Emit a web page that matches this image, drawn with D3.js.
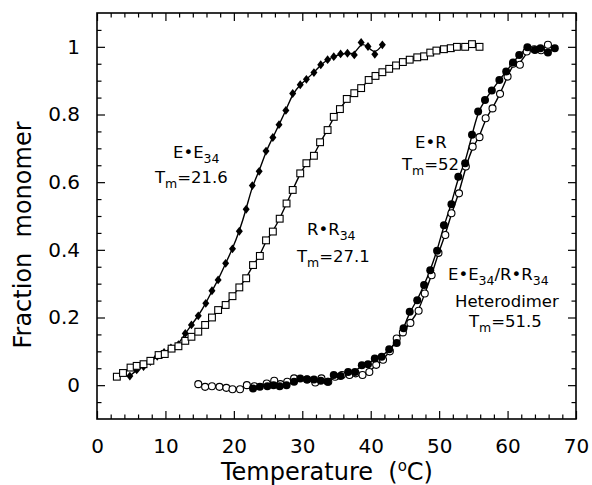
<!DOCTYPE html>
<html><head><meta charset="utf-8">
<script src="https://cdn.jsdelivr.net/npm/d3@7"></script>
<style>
html,body{margin:0;padding:0;background:#fff;}
text{font-family:"DejaVu Sans",sans-serif;fill:#000;}
</style></head>
<body><svg id="c" width="592" height="485"></svg>
<script>
// E•E34 (filled diamonds)
const eeT = [4.8,5.8,6.8,7.8,8.8,9.8,10.8,11.9,12.9,13.8,14.8,15.9,16.8,17.7,18.8,19.8,20.8,21.8,22.7,23.7,24.7,25.7,26.6,27.6,28.6,29.7,30.6,31.7,32.7,33.7,34.6,35.6,36.6,37.6,38.6,39.6,40.6,41.7];
const eeF = [0.027,0.045,0.055,0.07,0.085,0.097,0.11,0.12,0.153,0.178,0.205,0.242,0.279,0.311,0.36,0.403,0.455,0.52,0.59,0.632,0.692,0.732,0.77,0.812,0.862,0.888,0.904,0.924,0.947,0.962,0.971,0.979,0.981,0.976,1.013,1.001,0.978,1.006];
// R•R34 (open squares)
const rrT = [2.9,3.8,4.9,5.8,6.8,7.8,9.0,9.9,10.9,11.9,12.9,13.8,14.8,15.8,16.8,17.7,18.8,19.8,20.8,21.8,22.8,23.8,24.7,25.7,26.7,27.7,28.6,29.7,30.6,31.7,32.6,33.7,34.6,35.5,36.5,37.6,38.6,39.7,40.7,41.7,42.7,43.7,44.7,45.7,46.8,47.8,48.7,49.6,50.7,51.7,52.6,53.8,54.8,55.9];
const rrF = [0.025,0.036,0.052,0.057,0.062,0.072,0.089,0.092,0.108,0.115,0.131,0.143,0.158,0.178,0.2,0.222,0.237,0.263,0.289,0.316,0.355,0.382,0.428,0.454,0.492,0.537,0.577,0.626,0.656,0.678,0.718,0.754,0.793,0.816,0.846,0.863,0.878,0.902,0.914,0.925,0.935,0.945,0.955,0.962,0.969,0.972,0.983,0.989,0.993,0.996,1.0,1.0,1.008,1.0];
// E•R (open circles)
const erT = [14.8,15.8,16.8,17.9,18.9,19.8,20.9,21.9,23.0,24.8,25.9,26.8,27.8,28.8,30.7,31.9,32.8,33.8,34.8,35.8,36.9,37.8,38.8,39.8,40.8,41.8,42.8,43.8,44.7,45.8,47.0,47.9,48.9,49.9,50.9,51.8,52.9,53.9,54.9,55.9,56.8,57.8,58.9,60.0,60.8,61.8,62.8,63.9,64.9,65.9];
const erF = [0.003,-0.005,-0.003,-0.005,-0.008,-0.012,-0.012,0.0,-0.003,0.005,0.013,0.003,0.01,0.02,0.017,0.008,0.02,0.01,0.025,0.03,0.03,0.035,0.03,0.039,0.06,0.075,0.1,0.138,0.156,0.184,0.22,0.271,0.325,0.391,0.444,0.508,0.567,0.646,0.705,0.733,0.789,0.818,0.861,0.912,0.95,0.947,0.986,0.993,0.99,1.006];
// E•E34/R•R34 heterodimer (filled circles)
const hdT = [22.8,23.8,24.9,25.8,26.7,27.7,28.8,29.7,30.7,31.7,32.7,33.7,34.6,35.6,36.7,37.7,38.7,39.6,40.6,41.6,42.7,43.8,44.8,45.7,46.8,47.8,48.7,49.7,50.7,51.8,52.8,53.8,54.8,55.7,56.7,57.7,58.8,59.8,60.8,61.7,62.9,64.0,64.8,65.9,66.9];
const hdF = [-0.01,-0.005,-0.003,0.0,-0.003,0.0,0.01,0.02,0.017,0.017,0.013,0.01,0.03,0.027,0.039,0.039,0.059,0.062,0.079,0.084,0.106,0.125,0.168,0.217,0.251,0.296,0.34,0.397,0.473,0.535,0.616,0.656,0.74,0.809,0.843,0.871,0.902,0.927,0.954,0.976,0.999,0.991,0.996,0.983,0.996];

const xTicks = [0,10,20,30,40,50,60,70];
const yTicks = [0,0.2,0.4,0.6,0.8,1];

const svg = d3.select("#c");
const x = d3.scaleLinear().domain([0,70]).range([97,576]);
const y = d3.scaleLinear().domain([-0.1,1.1]).range([419,13]);
const X0 = 97, X1 = 576, Y0 = 419, Y1 = 13;

const xMinor = d3.range(0,71,2).filter(v=>v%10!==0);
const yMinor = d3.range(-1,12).map(i=>i*0.1).concat(d3.range(-1,11).map(i=>i*0.1+0.05)).map(v=>+v.toFixed(2)).filter(v=>v>-0.1 && v<1.1 && yTicks.indexOf(v)<0);

function drawAxes(){
  const fmtY = d => d===0?"0":d===1?"1":d.toFixed(1);
  svg.append("g").attr("transform",`translate(0,${Y0})`)
    .call(d3.axisBottom(x).tickValues(xTicks).tickSize(-8).tickPadding(20).tickFormat(d3.format("d")))
    .call(g=>{g.select(".domain").remove();g.selectAll("text").attr("font-size",20).attr("font-family","DejaVu Sans");});
  svg.append("g").attr("transform",`translate(0,${Y0})`)
    .call(d3.axisBottom(x).tickValues(xMinor).tickSize(-4.5).tickFormat(""))
    .call(g=>g.select(".domain").remove());
  svg.append("g").attr("transform",`translate(0,${Y1})`)
    .call(d3.axisTop(x).tickValues(xTicks).tickSize(-8).tickFormat(""))
    .call(g=>g.select(".domain").remove());
  svg.append("g").attr("transform",`translate(0,${Y1})`)
    .call(d3.axisTop(x).tickValues(xMinor).tickSize(-4.5).tickFormat(""))
    .call(g=>g.select(".domain").remove());
  svg.append("g").attr("transform",`translate(${X0},0)`)
    .call(d3.axisLeft(y).tickValues(yTicks).tickSize(-8).tickPadding(17).tickFormat(fmtY))
    .call(g=>{g.select(".domain").remove();g.selectAll("text").attr("font-size",20).attr("font-family","DejaVu Sans");});
  svg.append("g").attr("transform",`translate(${X0},0)`)
    .call(d3.axisLeft(y).tickValues(yMinor).tickSize(-4.5).tickFormat(""))
    .call(g=>g.select(".domain").remove());
  svg.append("g").attr("transform",`translate(${X1},0)`)
    .call(d3.axisRight(y).tickValues(yTicks).tickSize(-8).tickFormat(""))
    .call(g=>g.select(".domain").remove());
  svg.append("g").attr("transform",`translate(${X1},0)`)
    .call(d3.axisRight(y).tickValues(yMinor).tickSize(-4.5).tickFormat(""))
    .call(g=>g.select(".domain").remove());
  svg.selectAll(".tick line").attr("stroke","#000").attr("stroke-width",1.2);
  svg.append("rect").attr("x",X0).attr("y",Y1).attr("width",X1-X0).attr("height",Y0-Y1)
    .attr("fill","none").attr("stroke","#000").attr("stroke-width",1.6);
}
drawAxes();

const line = d3.line().x(d=>x(d[0])).y(d=>y(d[1])).curve(d3.curveBasis);
const series = [
  {T:eeT,F:eeF,type:"diamond"},
  {T:rrT,F:rrF,type:"square"},
  {T:erT,F:erF,type:"ocircle"},
  {T:hdT,F:hdF,type:"fcircle"}
];
series.forEach(s=>{
  const pts = s.T.map((t,i)=>[t,s.F[i]]);
  svg.append("path").attr("d",line(pts)).attr("fill","none").attr("stroke","#000").attr("stroke-width",1.4);
});
series.forEach(s=>{
  const pts = s.T.map((t,i)=>[t,s.F[i]]);
  const g = svg.append("g");
  if(s.type==="diamond"){
    g.selectAll("path").data(pts).join("path")
      .attr("d","M0,-4.4L3.5,0L0,4.4L-3.5,0Z")
      .attr("transform",d=>`translate(${x(d[0])},${y(d[1])})`).attr("fill","#000");
  } else if(s.type==="square"){
    g.selectAll("rect").data(pts).join("rect")
      .attr("x",d=>x(d[0])-3.4).attr("y",d=>y(d[1])-3.4).attr("width",6.8).attr("height",6.8)
      .attr("fill","#fff").attr("stroke","#000").attr("stroke-width",1.1);
  } else if(s.type==="ocircle"){
    g.selectAll("circle").data(pts).join("circle")
      .attr("cx",d=>x(d[0])).attr("cy",d=>y(d[1])).attr("r",3.5)
      .attr("fill","#fff").attr("stroke","#000").attr("stroke-width",1.1);
  } else {
    g.selectAll("circle").data(pts).join("circle")
      .attr("cx",d=>x(d[0])).attr("cy",d=>y(d[1])).attr("r",4)
      .attr("fill","#000");
  }
});

function label(xp, yp, parts){
  const t = svg.append("text").attr("x",xp).attr("y",yp).attr("font-size",16.5);
  let shift = 0;
  parts.forEach(p=>{
    const want = p.sub?5:0;
    const ts = t.append("tspan").text(p.t).attr("dy",want-shift);
    if(p.sub) ts.attr("font-size",12.5);
    shift = want;
  });
}
label(173,158,[{t:"E\u2022E"},{t:"34",sub:1}]);
label(155,183,[{t:"T"},{t:"m",sub:1},{t:"=21.6"}]);
label(307,235,[{t:"R\u2022R"},{t:"34",sub:1}]);
label(297,262,[{t:"T"},{t:"m",sub:1},{t:"=27.1"}]);
label(415,148,[{t:"E\u2022R"}]);
label(402,170,[{t:"T"},{t:"m",sub:1},{t:"=52"}]);
label(448,280,[{t:"E\u2022E"},{t:"34",sub:1},{t:"/R\u2022R"},{t:"34",sub:1}]);
label(455,307,[{t:"Heterodimer"}]);
label(469,327,[{t:"T"},{t:"m",sub:1},{t:"=51.5"}]);

svg.append("text").attr("transform","translate(31,235) rotate(-90)").attr("text-anchor","middle")
  .attr("font-size",24).style("white-space","pre").text("Fraction  monomer");
const xt = svg.append("text").attr("x",327).attr("y",480).attr("text-anchor","middle").attr("font-size",24)
  .style("white-space","pre");
xt.append("tspan").text("Temperature  (");
xt.append("tspan").text("o").attr("font-size",15).attr("dy",-9);
xt.append("tspan").text("C)").attr("dy",9);
</script></body></html>
